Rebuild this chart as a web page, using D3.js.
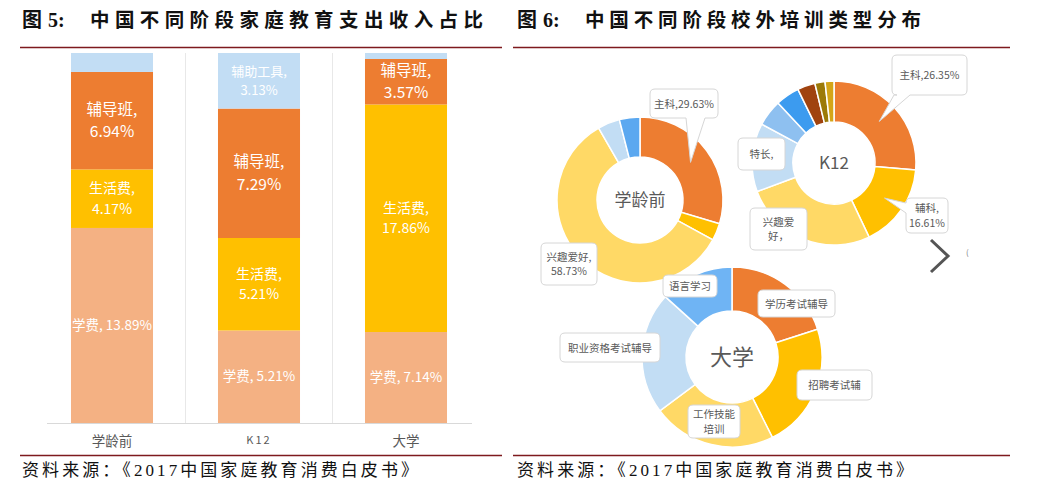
<!DOCTYPE html>
<html><head><meta charset="utf-8">
<script src="https://cdn.jsdelivr.net/npm/d3@7"></script>
<style>
html,body{margin:0;padding:0;background:#fff;}
svg{display:block;font-family:"Noto Sans CJK SC","Noto Sans",sans-serif;}
</style></head>
<body>
<svg id="c" width="1043" height="500"></svg>
<script>
// ---------- data ----------
const stages = ["学龄前", "K12", "大学"];
const barSeries = ["学费", "生活费", "辅导班", "辅助工具"];
const tuition = [13.89, 5.21, 7.14];
const living = [4.17, 5.21, 17.86];
const tutoring = [6.94, 7.29, 3.57];
const tools = [1.35, 3.13, 0.47];
const barColors = ["#F4B183", "#FFC000", "#ED7D31", "#C2DDF4"];

const preschoolCats = ["主科", "辅科", "兴趣爱好", "特长", "其他"];
const preschoolVals = [29.63, 3.34, 58.73, 4.30, 4.00];
const preschoolColors = ["#ED7D31", "#FFC000", "#FFD966", "#C2DDF4", "#5BA8F0"];

const k12Cats = ["主科", "辅科", "兴趣爱好", "特长", "其他1", "其他2", "其他3", "其他4", "其他5"];
const k12Vals = [26.35, 16.61, 26.39, 13.5, 5.2, 4.7, 3.5, 2.0, 1.75];
const k12Colors = ["#ED7D31", "#FFC000", "#FFD966", "#C2DDF4", "#8EC0F0", "#3C9BEF", "#A0430F", "#9C7A08", "#D4A517"];

const collegeCats = ["学历考试辅导", "招聘考试辅导", "工作技能培训", "职业资格考试辅导", "语言学习"];
const collegeVals = [20.0, 22.6, 22.2, 21.9, 13.3];
const collegeColors = ["#ED7D31", "#FFC000", "#FFD966", "#C2DDF4", "#6FB4F4"];

const titleLeft = ["图", "5:", "中国不同阶段家庭教育支出收入占比"];
const titleRight = ["图", "6:", "中国不同阶段校外培训类型分布"];
const sourceText = "资料来源：《2017中国家庭教育消费白皮书》";

// ---------- frame ----------
const svg = d3.select("#c");
const red = "#7E1A1E";
const gray = "#595959";

function titleBlock(x0, parts, len) {
  const g = svg.append("g");
  g.append("text").attr("x", x0).attr("y", 27).attr("font-size", 20).attr("font-weight", 700).attr("fill", "#111").text(parts[0]);
  g.append("text").attr("x", x0 + 26).attr("y", 27).attr("font-size", 20).attr("font-weight", 700)
    .attr("font-family", "Liberation Serif, serif").attr("fill", "#111").text(parts[1]);
  g.append("text").attr("x", x0 + 68).attr("y", 27).attr("font-size", 19.5).attr("font-weight", 700).attr("fill", "#111")
    .attr("textLength", len).attr("lengthAdjust", "spacing").text(parts[2]);
}
titleBlock(22, titleLeft, 393);
titleBlock(517, titleRight, 336);

[[20, 502], [513, 1010]].forEach(([a, b]) => {
  svg.append("line").attr("x1", a).attr("x2", b).attr("y1", 47.5).attr("y2", 47.5).attr("stroke", red).attr("stroke-width", 1.5);
  svg.append("line").attr("x1", a).attr("x2", b).attr("y1", 455.5).attr("y2", 455.5).attr("stroke", red).attr("stroke-width", 1.5);
});
[22, 517].forEach(x => {
  svg.append("text").attr("x", x).attr("y", 476).attr("font-size", 17).attr("fill", "#111")
    .attr("font-family", "Liberation Serif, 'Noto Sans CJK SC', serif")
    .attr("textLength", 396).attr("lengthAdjust", "spacing").text(sourceText);
});

// ---------- bar chart ----------
const rows = stages.map((s, i) => ({stage: s, "学费": tuition[i], "生活费": living[i], "辅导班": tutoring[i], "辅助工具": tools[i]}));
const stack = d3.stack().keys(barSeries).offset(d3.stackOffsetExpand)(rows);
const x = d3.scaleBand().domain(stages).range([38.5, 479.5]).paddingInner(0.442).paddingOuter(0.221);
const y = d3.scaleLinear().domain([0, 1]).range([423, 53]);
const bars = svg.append("g");

// separators
stages.slice(1).forEach(s => {
  const sx = x(s) - (x.step() - x.bandwidth()) / 2;
  bars.append("line").attr("x1", sx).attr("x2", sx).attr("y1", 53).attr("y2", 423).attr("stroke", "#E8E8E8").attr("stroke-width", 1);
});

stack.forEach((layer, li) => {
  bars.selectAll(null).data(layer).join("rect")
    .attr("x", d => x(d.data.stage)).attr("width", x.bandwidth())
    .attr("y", d => y(d[1])).attr("height", d => y(d[0]) - y(d[1]))
    .attr("fill", barColors[li]);
});
bars.append("line").attr("x1", 47).attr("x2", 472).attr("y1", 423.5).attr("y2", 423.5).attr("stroke", "#D9D9D9");

// labels
const labelSizes = {"学费": 13.5, "生活费": 14, "辅导班": 15.5, "辅助工具": 13};
stack.forEach(layer => {
  const key = layer.key;
  layer.forEach(d => {
    const v = d.data[key];
    if (key === "辅助工具" && d.data.stage !== "K12") return;
    const cx = x(d.data.stage) + x.bandwidth() / 2;
    const cy = (y(d[0]) + y(d[1])) / 2;
    const fs = labelSizes[key];
    const ls = fs * 1.45;
    const mk = (ty, s) => bars.append("text").attr("fill", "#fff").attr("font-size", fs)
      .attr("text-anchor", "middle").attr("x", cx).attr("y", ty).text(s);
    if (key === "学费") {
      mk(cy + fs * 0.35, key + ", " + v.toFixed(2) + "%");
    } else {
      mk(cy - ls / 2 + fs * 0.35, key + ",");
      mk(cy + ls / 2 + fs * 0.35, v.toFixed(2) + "%");
    }
  });
});
bars.append("g").attr("transform", "translate(0,423)")
  .call(d3.axisBottom(x).tickSize(0).tickPadding(13))
  .call(g => g.select(".domain").remove())
  .call(g => g.selectAll("text").attr("fill", gray)
    .attr("font-family", "'Noto Sans CJK SC', sans-serif")
    .attr("letter-spacing", d => d === "K12" ? 2 : 0)
    .attr("font-size", d => d === "K12" ? 11 : 13.5));

// ---------- donuts ----------
function callPath(b, tip) {
  const [x0, y0, x1, y1] = b, r = 5;
  let p = `M${x0 + r},${y0} L${x1 - r},${y0} Q${x1},${y0} ${x1},${y0 + r} `;
  if (tip && tip.side === "right") p += `L${x1},${tip.a} L${tip.tx},${tip.ty} L${x1},${tip.b} `;
  p += `L${x1},${y1 - r} Q${x1},${y1} ${x1 - r},${y1} `;
  if (tip && tip.side === "bottom") p += `L${tip.b},${y1} L${tip.tx},${tip.ty} L${tip.a},${y1} `;
  p += `L${x0 + r},${y1} Q${x0},${y1} ${x0},${y1 - r} `;
  if (tip && tip.side === "left") p += `L${x0},${tip.b} L${tip.tx},${tip.ty} L${x0},${tip.a} `;
  p += `L${x0},${y0 + r} Q${x0},${y0} ${x0 + r},${y0} Z`;
  return p;
}

function donut(cfg) {
  const g = svg.append("g").attr("transform", `translate(${cfg.cx},${cfg.cy})`);
  const data = cfg.cats.map((c, i) => ({cat: c, v: cfg.vals[i], col: cfg.colors[i]}));
  const arcs = d3.pie().sort(null).value(d => d.v)(data);
  const arc = d3.arc().innerRadius(cfg.r).outerRadius(cfg.R);
  g.selectAll("path.s").data(arcs).join("path").attr("class", "s")
    .attr("d", arc).attr("fill", d => d.data.col).attr("stroke", "#fff").attr("stroke-width", 1.5);
  g.append("text").attr("text-anchor", "middle").attr("y", cfg.centerSize * 0.36)
    .attr("font-size", cfg.centerSize).attr("fill", gray).text(cfg.center);
  cfg.callouts.forEach(co => {
    const a = arcs.find(d => d.data.cat === co.cat);
    let tip = null;
    if (co.tip) {
      const c = arc.centroid(a);
      tip = {side: co.tip.side, a: co.tip.a, b: co.tip.b, tx: c[0] + cfg.cx, ty: c[1] + cfg.cy};
    }
    const b = co.box;
    svg.append("path").attr("d", callPath(b, tip)).attr("fill", "#fff").attr("stroke", "#D6D6D6").attr("stroke-width", 1);
    const lines = co.lines(a.data);
    const mx = (b[0] + b[2]) / 2, my = (b[1] + b[3]) / 2;
    const lh = 14.5;
    lines.forEach((l, i) => {
      svg.append("text").attr("x", mx).attr("y", my + (i - (lines.length - 1) / 2) * lh + 4)
        .attr("text-anchor", "middle").attr("font-size", 10.5).attr("fill", gray).text(l);
    });
  });
}
const pct = d => d.v.toFixed(2) + "%";

donut({cx: 640, cy: 200, R: 83, r: 43, cats: preschoolCats, vals: preschoolVals, colors: preschoolColors,
  center: "学龄前", centerSize: 17,
  callouts: [
    {cat: "主科", box: [650, 89, 718, 118], tip: {side: "bottom", a: 686, b: 705}, lines: d => [d.cat + "," + pct(d)]},
    {cat: "兴趣爱好", box: [541, 243, 597, 285], lines: d => [d.cat + ",", pct(d)]}
  ]});

donut({cx: 834, cy: 163, R: 82, r: 41, cats: k12Cats, vals: k12Vals, colors: k12Colors,
  center: "K12", centerSize: 17,
  callouts: [
    {cat: "主科", box: [892, 55, 967, 95], tip: {side: "bottom", a: 894, b: 910}, lines: d => [d.cat + "," + pct(d)]},
    {cat: "特长", box: [738, 138, 785, 170], lines: d => [d.cat + ","]},
    {cat: "兴趣爱好", box: [750, 208, 807, 250], lines: d => ["兴趣爱", "好，"]},
    {cat: "辅科", box: [906, 198, 948, 233], tip: {side: "left", a: 203, b: 213}, lines: d => [d.cat + ",", pct(d)]}
  ]});

donut({cx: 732, cy: 357, R: 90, r: 46, cats: collegeCats, vals: collegeVals, colors: collegeColors,
  center: "大学", centerSize: 22,
  callouts: [
    {cat: "语言学习", box: [663, 275, 717, 297], lines: d => [d.cat]},
    {cat: "学历考试辅导", box: [758, 290, 835, 317], lines: d => [d.cat]},
    {cat: "职业资格考试辅导", box: [560, 333, 660, 362], lines: d => [d.cat]},
    {cat: "工作技能培训", box: [688, 405, 740, 438], lines: d => ["工作技能", "培训"]},
    {cat: "招聘考试辅导", box: [797, 370, 872, 400], lines: d => ["招聘考试辅"]}
  ]});

// carousel arrow
svg.append("path").attr("d", "M931,240 L948,256 L931,272").attr("fill", "none").attr("stroke", "#555").attr("stroke-width", 3);
svg.append("text").attr("x", 966).attr("y", 255).attr("font-size", 8).attr("fill", "#777").text("(");
</script>
</body></html>
